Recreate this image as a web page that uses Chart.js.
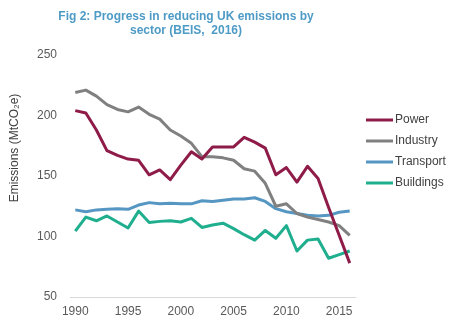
<!DOCTYPE html>
<html lang="en">
<head>
    <meta charset="UTF-8">
    <title>Progress in reducing UK emissions by sector</title>
    <script src="https://cdn.jsdelivr.net/npm/chart.js"></script>
    <style>
        html, body { margin: 0; padding: 0; background: #fff; }
        #wrap { width: 458px; height: 325px; }
    </style>
</head>
<body>
    <div id="wrap"><canvas id="emissionsChart" width="458" height="325"></canvas></div>
    <script>
        // years 1990..2016
        var years = ['1990','1991','1992','1993','1994','1995','1996','1997','1998','1999',
                     '2000','2001','2002','2003','2004','2005','2006','2007','2008','2009',
                     '2010','2011','2012','2013','2014','2015','2016'];

        var power     = [204, 202, 188, 171, 167, 164, 163, 151, 155, 147,
                         159, 170, 164, 174, 174, 174, 182, 178, 173, 151,
                         157, 145, 158, 148, 124, 101, 78];
        var industry  = [219, 221, 216, 209, 205, 203, 207, 201, 197, 188,
                         183, 177, 166, 166, 165, 163, 156, 154, 144, 125,
                         127, 119, 116, 114, 112, 109, 101];
        var transport = [122, 120.5, 122, 122.5, 123, 122.5, 126, 128, 127, 127.5,
                         127, 127, 129.5, 129, 130, 131, 131, 132, 129, 123,
                         120.5, 119, 117.5, 117, 117.5, 120, 121];
        var buildings = [104.5, 116, 113, 117, 112, 107, 121, 111.5, 112.5, 113,
                         112, 115, 107.5, 109.5, 111, 106.5, 101.5, 97, 105, 98.5,
                         109, 88, 97, 98, 82, 85, 88];

        var seriesNames  = ['Power', 'Industry', 'Transport', 'Buildings'];
        var seriesColors = ['#8E1B48', '#808080', '#5596C2', '#1FAF8E'];
        var yTicks = [50, 100, 150, 200, 250];
        var titleLines = ['Fig 2: Progress in reducing UK emissions by', 'sector (BEIS,  2016)'];
        var yTitle = 'Emissions (MtCO\u2082e)';

        var FONT = '"Liberation Sans", Arial, sans-serif';

        // title, y-axis title and legend drawn by hand
        var extras = {
            id: 'extras',
            afterDraw: function(chart) {
                var c = chart.ctx;
                c.save();
                c.fillStyle = '#4E9BC6';
                c.font = 'bold 12px ' + FONT;
                c.textAlign = 'center';
                c.textBaseline = 'middle';
                c.fillText(titleLines[0], 186, 17);
                c.fillText(titleLines[1], 186, 31);

                c.fillStyle = '#404040';
                c.font = '12px ' + FONT;
                c.translate(15, 148);
                c.rotate(-Math.PI / 2);
                c.fillText(yTitle, 0, 0);
                c.restore();

                c.save();
                c.font = '12px ' + FONT;
                c.textBaseline = 'middle';
                c.textAlign = 'left';
                chart.data.datasets.forEach(function(ds, i) {
                    var y = 120 + i * 21;
                    c.strokeStyle = ds.borderColor;
                    c.lineWidth = 3;
                    c.beginPath();
                    c.moveTo(366, y);
                    c.lineTo(393, y);
                    c.stroke();
                    c.fillStyle = '#404040';
                    c.fillText(ds.label, 395, y);
                });
                c.restore();
            }
        };

        var allSeries = [power, industry, transport, buildings];
        var datasets = allSeries.map(function(vals, i) {
            return {
                label: seriesNames[i],
                data: vals,
                borderColor: seriesColors[i],
                backgroundColor: seriesColors[i],
                borderWidth: 3,
                pointRadius: 0,
                tension: 0,
                fill: false,
                borderJoinStyle: 'round'
            };
        });
        // draw order as in the picture: buildings, transport, industry, power on top
        datasets[0].order = 1;
        datasets[1].order = 2;
        datasets[2].order = 3;
        datasets[3].order = 4;

        var ctx = document.getElementById('emissionsChart').getContext('2d');
        var emissionsChart = new Chart(ctx, {
            type: 'line',
            data: { labels: years, datasets: datasets },
            plugins: [extras],
            options: {
                responsive: false,
                animation: false,
                layout: { padding: { left: 0, top: 55, right: 103, bottom: 0 } },
                plugins: {
                    legend: { display: false },
                    title: { display: false },
                    tooltip: { enabled: false }
                },
                scales: {
                    x: {
                        type: 'category',
                        offset: true,
                        grid: { display: false, drawTicks: false },
                        border: { display: true, color: '#D9D9D9', width: 1 },
                        ticks: {
                            autoSkip: false,
                            maxRotation: 0,
                            padding: 7,
                            color: '#595959',
                            font: { family: FONT, size: 12 },
                            callback: function(v, i) {
                                var y = years[i];
                                return (parseInt(y, 10) % 5 === 0) ? y : '';
                            }
                        },
                        afterFit: function(s) { s.height = 28; }
                    },
                    y: {
                        min: 50,
                        max: 250,
                        grid: { display: false, drawTicks: false },
                        border: { display: false },
                        afterBuildTicks: function(s) {
                            s.ticks = yTicks.map(function(v) { return { value: v }; });
                        },
                        ticks: {
                            padding: 13,
                            color: '#595959',
                            font: { family: FONT, size: 12 }
                        },
                        afterFit: function(s) { s.width = 70; }
                    }
                }
            }
        });
    </script>
</body>
</html>
